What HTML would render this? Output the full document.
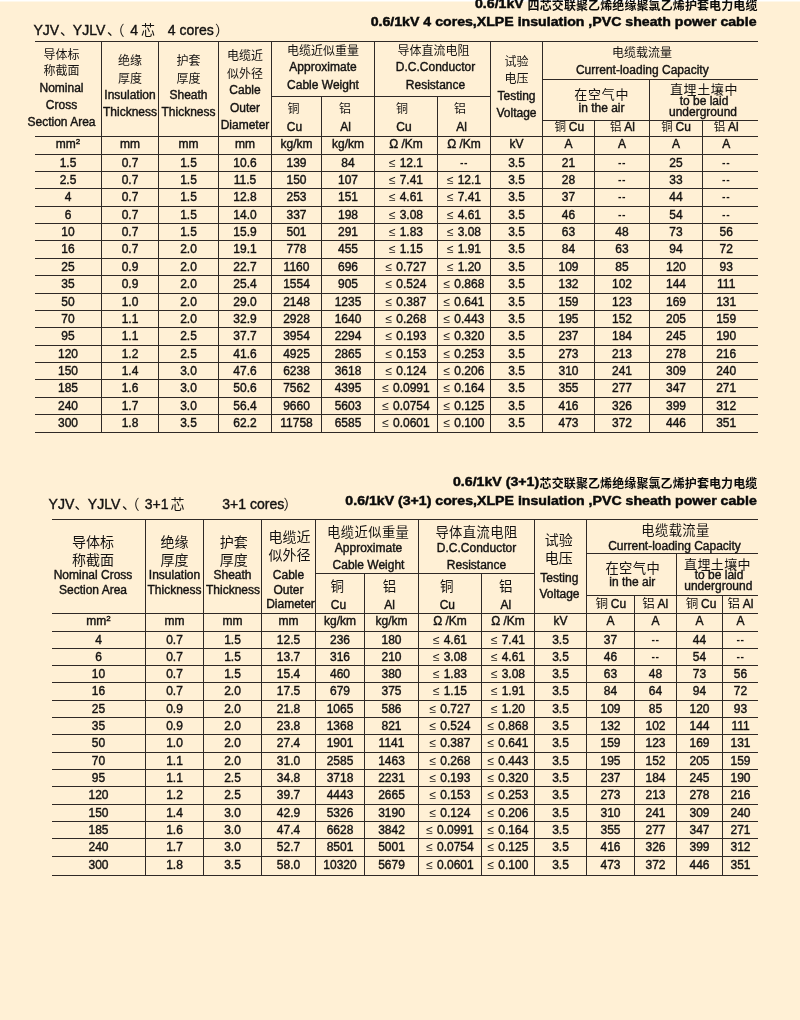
<!DOCTYPE html>
<html lang="zh">
<head>
<meta charset="utf-8">
<title>0.6/1kV XLPE insulation PVC sheath power cable</title>
<style>
html,body{margin:0;padding:0}
body{width:800px;height:1020px;overflow:hidden;position:relative;background:#FFF0D5;color:#141211;font-family:"Liberation Sans","Noto Sans CJK SC",sans-serif;font-size:12px;-webkit-text-stroke:.4px currentColor}
#page{position:absolute;left:0;top:0;width:800px;height:1020px;will-change:transform}
.strip{position:absolute;left:0;top:0;width:800px;height:2px;background:linear-gradient(#fff 0,#fff 1px,#fff8ea 1px,#fff8ea 2px)}
.cj{display:inline-block;white-space:nowrap;line-height:0;font-family:"Liberation Sans","Noto Sans CJK SC",sans-serif;-webkit-text-stroke:0}
.le{display:inline-block;margin-right:.8px;-webkit-text-stroke:0}
table{position:absolute;border-collapse:separate;border-spacing:0;table-layout:fixed;border-top:1px solid #2f2926}
th,td{padding:0;margin:0;font-weight:normal;text-align:center;vertical-align:top;border-right:1px solid #2f2926;border-bottom:1px solid #2f2926;white-space:nowrap;overflow:visible;font-size:12px;line-height:14px}
th.last,td.last{border-right:0}
#t1 .lc{padding-right:8.6px}
.hc{position:relative;width:100%}
.ln{position:absolute;left:-20px;right:-20px;height:14px;line-height:14px;text-align:center;white-space:nowrap}
.sp{margin-left:2.8px}
tr.u th{line-height:14px}
.dd{font-size:10.5px;font-weight:bold;-webkit-text-stroke:0;letter-spacing:.6px;position:relative;top:-1px}
sup{font-size:8px;line-height:0;vertical-align:4px}
td{line-height:16px}
h1,h2{margin:0;padding:0;position:absolute;left:0;width:800px;height:14px;white-space:nowrap;font-size:12.3px;line-height:14px;font-weight:bold;color:#0a0a0a;-webkit-text-stroke:.45px currentColor}
.wl{transform-origin:0 50%;transform:scaleX(1.15)}
.wr{left:auto;transform-origin:100% 50%;transform:scaleX(1.15)}
.lb{position:absolute;left:0;width:400px;height:16px;font-size:14px;line-height:16px;white-space:nowrap}
.sg{position:absolute;top:0}
</style>
</head>
<body>
<div id="page">
<div class="strip"></div>
<h1 class="tt" style="top:-2.66px"><span class="sg wl" style="left:475.3px">0.6/1kV</span><span class="sg" style="left:527.6px;top:1.30px"><span class="cj" style="font-size:12px;letter-spacing:0.1px">四芯交联聚乙烯绝缘聚氯乙烯护套电力电缆</span></span></h1>
<h2 class="tt" style="top:14.54px"><span class="sg wr" style="right:43px">0.6/1kV 4 cores,XLPE insulation ,PVC sheath power cable</span></h2>
<div class="lb" style="top:22.15px"><span class="sg" style="left:33.4px">YJV</span><span class="sg" style="left:60px"><span class="cj" style="font-size:14px;">、</span></span><span class="sg" style="left:72.8px">YJLV</span><span class="sg" style="left:107px"><span class="cj" style="font-size:14px;">、</span></span><span class="sg" style="left:110.5px"><span class="cj" style="font-size:14px;">（</span></span><span class="sg" style="left:130.3px">4</span><span class="sg" style="left:141px"><span class="cj" style="font-size:14px;">芯</span></span><span class="sg" style="left:167.8px">4 cores</span><span class="sg" style="left:215px"><span class="cj" style="font-size:14px;">）</span></span></div>
<table id="t1" style="left:35px;top:41px;width:723px">
<colgroup><col style="width:67px"><col style="width:57px"><col style="width:60px"><col style="width:53px"><col style="width:50px"><col style="width:53px"><col style="width:63px"><col style="width:53px"><col style="width:52px"><col style="width:52px"><col style="width:55px"><col style="width:53px"><col style="width:55px"></colgroup>
<thead>
<tr style="height:38px"><th rowspan="4"><div class="hc" style="height:94px;left:-6.5px"><div class="ln" style="top:5.64px"><span class="cj" style="font-size:12px;">导体标</span></div><div class="ln" style="top:22.24px"><span class="cj" style="font-size:12px;">称截面</span></div><div class="ln" style="top:38.64px">Nominal</div><div class="ln" style="top:55.94px">Cross</div><div class="ln" style="top:73.24px">Section Area</div></div></th><th rowspan="4"><div class="hc" style="height:94px"><div class="ln" style="top:12.14px"><span class="cj" style="font-size:12px;">绝缘</span></div><div class="ln" style="top:29.64px"><span class="cj" style="font-size:12px;">厚度</span></div><div class="ln" style="top:46.04px">Insulation</div><div class="ln" style="top:63.04px">Thickness</div></div></th><th rowspan="4"><div class="hc" style="height:94px"><div class="ln" style="top:12.14px"><span class="cj" style="font-size:12px;">护套</span></div><div class="ln" style="top:29.64px"><span class="cj" style="font-size:12px;">厚度</span></div><div class="ln" style="top:46.04px">Sheath</div><div class="ln" style="top:63.04px">Thickness</div></div></th><th rowspan="4"><div class="hc" style="height:94px"><div class="ln" style="top:7.24px"><span class="cj" style="font-size:12px;">电缆近</span></div><div class="ln" style="top:24.74px"><span class="cj" style="font-size:12px;">似外径</span></div><div class="ln" style="top:40.74px">Cable</div><div class="ln" style="top:59.04px">Outer</div><div class="ln" style="top:75.84px">Diameter</div></div></th><th rowspan="2" colspan="2"><div class="hc" style="height:54px"><div class="ln" style="top:2.44px"><span class="cj" style="font-size:12px;">电缆近似重量</span></div><div class="ln" style="top:18.44px">Approximate</div><div class="ln" style="top:35.74px">Cable Weight</div></div></th><th rowspan="2" colspan="2"><div class="hc" style="height:54px"><div class="ln" style="top:2.44px;left:-19px;right:-21px"><span class="cj" style="font-size:12px;">导体直流电阻</span></div><div class="ln" style="top:18.44px;left:-17px;right:-23px">D.C.Conductor</div><div class="ln" style="top:35.74px;left:-17px;right:-23px">Resistance</div></div></th><th rowspan="4"><div class="hc" style="height:94px"><div class="ln" style="top:13.04px"><span class="cj" style="font-size:12px;">试验</span></div><div class="ln" style="top:29.74px"><span class="cj" style="font-size:12px;">电压</span></div><div class="ln" style="top:46.94px">Testing</div><div class="ln" style="top:63.84px">Voltage</div></div></th><th colspan="4" class="last"><div class="hc" style="height:37px"><div class="ln" style="top:4.24px;left:-28.6px;right:-11.4px"><span class="cj" style="font-size:12px;">电缆载流量</span></div><div class="ln" style="top:21.04px;left:-28.2px;right:-11.8px">Current-loading Capacity</div></div></th></tr>
<tr style="height:17px"><th rowspan="2" colspan="2"><div class="hc" style="height:40px"><div class="ln" style="top:7.84px;left:-14.2px;right:-25.8px"><span class="cj" style="font-size:13px;letter-spacing:0.8px">在空气中</span></div><div class="ln" style="top:21.04px;left:-14.5px;right:-25.5px">in the air</div></div></th><th rowspan="2" colspan="2" class="last"><div class="hc" style="height:40px"><div class="ln" style="top:2.64px"><span class="cj" style="font-size:13px;letter-spacing:0.6px">直埋土壤中</span></div><div class="ln" style="top:14.44px">to be laid</div><div class="ln" style="top:24.84px;left:-21px;right:-19px">underground</div></div></th></tr>
<tr style="height:24px"><th rowspan="2"><div class="hc" style="height:39px"><div class="ln" style="top:4.74px;left:-23px;right:-17px"><span class="cj" style="font-size:12px;">铜</span></div><div class="ln" style="top:22.84px;left:-22px;right:-18px">Cu</div></div></th><th rowspan="2"><div class="hc" style="height:39px"><div class="ln" style="top:4.74px;left:-23px;right:-17px"><span class="cj" style="font-size:12px;">铝</span></div><div class="ln" style="top:22.84px;left:-22.5px;right:-17.5px">Al</div></div></th><th rowspan="2"><div class="hc" style="height:39px"><div class="ln" style="top:4.74px;left:-24px;right:-16px"><span class="cj" style="font-size:12px;">铜</span></div><div class="ln" style="top:22.84px;left:-22px;right:-18px">Cu</div></div></th><th rowspan="2"><div class="hc" style="height:39px"><div class="ln" style="top:4.74px;left:-23.9px;right:-16.1px"><span class="cj" style="font-size:12px;">铝</span></div><div class="ln" style="top:22.84px;left:-22.5px;right:-17.5px">Al</div></div></th></tr>
<tr style="height:16px"><th><div class="hc" style="height:15px"><div class="ln" style="top:-1.16px;left:-19.2px;right:-20.8px"><span class="cj" style="font-size:11.5px;">铜</span><span class="sp">Cu</span></div></div></th><th><div class="hc" style="height:15px"><div class="ln" style="top:-1.16px;left:-19.5px;right:-20.5px"><span class="cj" style="font-size:11.5px;">铝</span><span class="sp">Al</span></div></div></th><th><div class="hc" style="height:15px"><div class="ln" style="top:-1.16px"><span class="cj" style="font-size:11.5px;">铜</span><span class="sp">Cu</span></div></div></th><th class="last"><div class="hc" style="height:15px"><div class="ln" style="top:-1.16px;left:-24.3px;right:-15.7px"><span class="cj" style="font-size:11.5px;">铝</span><span class="sp">Al</span></div></div></th></tr>
<tr class="u" style="height:18px"><th>mm<sup>2</sup></th><th>mm</th><th>mm</th><th>mm</th><th>kg/km</th><th>kg/km</th><th>Ω /Km</th><th>Ω /Km</th><th>kV</th><th>A</th><th>A</th><th>A</th><th class='last lc'>A</th></tr>
</thead><tbody>
<tr style="height:17px"><td>1.5</td><td>0.7</td><td>1.5</td><td>10.6</td><td>139</td><td>84</td><td><span class="le">≤</span> 12.1</td><td><b class="dd">--</b></td><td>3.5</td><td>21</td><td><b class="dd">--</b></td><td>25</td><td class='last lc'><b class="dd">--</b></td></tr>
<tr style="height:17px"><td>2.5</td><td>0.7</td><td>1.5</td><td>11.5</td><td>150</td><td>107</td><td><span class="le">≤</span> 7.41</td><td><span class="le">≤</span> 12.1</td><td>3.5</td><td>28</td><td><b class="dd">--</b></td><td>33</td><td class='last lc'><b class="dd">--</b></td></tr>
<tr style="height:18px"><td>4</td><td>0.7</td><td>1.5</td><td>12.8</td><td>253</td><td>151</td><td><span class="le">≤</span> 4.61</td><td><span class="le">≤</span> 7.41</td><td>3.5</td><td>37</td><td><b class="dd">--</b></td><td>44</td><td class='last lc'><b class="dd">--</b></td></tr>
<tr style="height:17px"><td>6</td><td>0.7</td><td>1.5</td><td>14.0</td><td>337</td><td>198</td><td><span class="le">≤</span> 3.08</td><td><span class="le">≤</span> 4.61</td><td>3.5</td><td>46</td><td><b class="dd">--</b></td><td>54</td><td class='last lc'><b class="dd">--</b></td></tr>
<tr style="height:17px"><td>10</td><td>0.7</td><td>1.5</td><td>15.9</td><td>501</td><td>291</td><td><span class="le">≤</span> 1.83</td><td><span class="le">≤</span> 3.08</td><td>3.5</td><td>63</td><td>48</td><td>73</td><td class='last lc'>56</td></tr>
<tr style="height:18px"><td>16</td><td>0.7</td><td>2.0</td><td>19.1</td><td>778</td><td>455</td><td><span class="le">≤</span> 1.15</td><td><span class="le">≤</span> 1.91</td><td>3.5</td><td>84</td><td>63</td><td>94</td><td class='last lc'>72</td></tr>
<tr style="height:17px"><td>25</td><td>0.9</td><td>2.0</td><td>22.7</td><td>1160</td><td>696</td><td><span class="le">≤</span> 0.727</td><td><span class="le">≤</span> 1.20</td><td>3.5</td><td>109</td><td>85</td><td>120</td><td class='last lc'>93</td></tr>
<tr style="height:18px"><td>35</td><td>0.9</td><td>2.0</td><td>25.4</td><td>1554</td><td>905</td><td><span class="le">≤</span> 0.524</td><td><span class="le">≤</span> 0.868</td><td>3.5</td><td>132</td><td>102</td><td>144</td><td class='last lc'>111</td></tr>
<tr style="height:17px"><td>50</td><td>1.0</td><td>2.0</td><td>29.0</td><td>2148</td><td>1235</td><td><span class="le">≤</span> 0.387</td><td><span class="le">≤</span> 0.641</td><td>3.5</td><td>159</td><td>123</td><td>169</td><td class='last lc'>131</td></tr>
<tr style="height:17px"><td>70</td><td>1.1</td><td>2.0</td><td>32.9</td><td>2928</td><td>1640</td><td><span class="le">≤</span> 0.268</td><td><span class="le">≤</span> 0.443</td><td>3.5</td><td>195</td><td>152</td><td>205</td><td class='last lc'>159</td></tr>
<tr style="height:18px"><td>95</td><td>1.1</td><td>2.5</td><td>37.7</td><td>3954</td><td>2294</td><td><span class="le">≤</span> 0.193</td><td><span class="le">≤</span> 0.320</td><td>3.5</td><td>237</td><td>184</td><td>245</td><td class='last lc'>190</td></tr>
<tr style="height:17px"><td>120</td><td>1.2</td><td>2.5</td><td>41.6</td><td>4925</td><td>2865</td><td><span class="le">≤</span> 0.153</td><td><span class="le">≤</span> 0.253</td><td>3.5</td><td>273</td><td>213</td><td>278</td><td class='last lc'>216</td></tr>
<tr style="height:17px"><td>150</td><td>1.4</td><td>3.0</td><td>47.6</td><td>6238</td><td>3618</td><td><span class="le">≤</span> 0.124</td><td><span class="le">≤</span> 0.206</td><td>3.5</td><td>310</td><td>241</td><td>309</td><td class='last lc'>240</td></tr>
<tr style="height:18px"><td>185</td><td>1.6</td><td>3.0</td><td>50.6</td><td>7562</td><td>4395</td><td><span class="le">≤</span> 0.0991</td><td><span class="le">≤</span> 0.164</td><td>3.5</td><td>355</td><td>277</td><td>347</td><td class='last lc'>271</td></tr>
<tr style="height:17px"><td>240</td><td>1.7</td><td>3.0</td><td>56.4</td><td>9660</td><td>5603</td><td><span class="le">≤</span> 0.0754</td><td><span class="le">≤</span> 0.125</td><td>3.5</td><td>416</td><td>326</td><td>399</td><td class='last lc'>312</td></tr>
<tr style="height:18px"><td>300</td><td>1.8</td><td>3.5</td><td>62.2</td><td>11758</td><td>6585</td><td><span class="le">≤</span> 0.0601</td><td><span class="le">≤</span> 0.100</td><td>3.5</td><td>473</td><td>372</td><td>446</td><td class='last lc'>351</td></tr>
</tbody></table>
<h1 class="tt" style="top:474.94px"><span class="sg wl" style="left:452.6px">0.6/1kV (3+1)</span><span class="sg" style="left:539.6px;top:1.80px"><span class="cj" style="font-size:12px;letter-spacing:0.1px">芯交联聚乙烯绝缘聚氯乙烯护套电力电缆</span></span></h1>
<h2 class="tt" style="top:493.74px"><span class="sg wr" style="right:43px">0.6/1kV (3+1) cores,XLPE insulation ,PVC sheath power cable</span></h2>
<div class="lb" style="top:496.15px"><span class="sg" style="left:48.6px">YJV</span><span class="sg" style="left:74.5px"><span class="cj" style="font-size:14px;">、</span></span><span class="sg" style="left:87.8px">YJLV</span><span class="sg" style="left:122px"><span class="cj" style="font-size:14px;">、</span></span><span class="sg" style="left:125.5px"><span class="cj" style="font-size:14px;">（</span></span><span class="sg" style="left:144.8px">3+1</span><span class="sg" style="left:170.5px"><span class="cj" style="font-size:14px;">芯</span></span><span class="sg" style="left:222.3px">3+1 cores</span><span class="sg" style="left:283.5px"><span class="cj" style="font-size:14px;">）</span></span></div>
<table id="t2" style="left:52px;top:519px;width:706px">
<colgroup><col style="width:94px"><col style="width:58px"><col style="width:58px"><col style="width:54px"><col style="width:49px"><col style="width:54px"><col style="width:63px"><col style="width:53px"><col style="width:52px"><col style="width:48px"><col style="width:42px"><col style="width:46px"><col style="width:35px"></colgroup>
<thead>
<tr style="height:34px"><th rowspan="4"><div class="hc" style="height:93px;left:-5.5px"><div class="ln" style="top:15.64px"><span class="cj" style="font-size:14px;">导体标</span></div><div class="ln" style="top:33.64px"><span class="cj" style="font-size:14px;">称截面</span></div><div class="ln" style="top:48.04px">Nominal Cross</div><div class="ln" style="top:62.64px">Section Area</div></div></th><th rowspan="4"><div class="hc" style="height:93px"><div class="ln" style="top:15.64px"><span class="cj" style="font-size:14px;">绝缘</span></div><div class="ln" style="top:33.64px"><span class="cj" style="font-size:14px;">厚度</span></div><div class="ln" style="top:48.04px">Insulation</div><div class="ln" style="top:62.64px">Thickness</div></div></th><th rowspan="4"><div class="hc" style="height:93px"><div class="ln" style="top:15.64px;left:-18.7px;right:-21.3px"><span class="cj" style="font-size:14px;">护套</span></div><div class="ln" style="top:33.64px;left:-18.7px;right:-21.3px"><span class="cj" style="font-size:14px;">厚度</span></div><div class="ln" style="top:48.04px">Sheath</div><div class="ln" style="top:62.64px;left:-19.5px;right:-20.5px">Thickness</div></div></th><th rowspan="4"><div class="hc" style="height:93px"><div class="ln" style="top:11.14px;left:-19px;right:-21px"><span class="cj" style="font-size:14px;">电缆近</span></div><div class="ln" style="top:29.24px;left:-19px;right:-21px"><span class="cj" style="font-size:14px;">似外径</span></div><div class="ln" style="top:47.64px">Cable</div><div class="ln" style="top:62.54px">Outer</div><div class="ln" style="top:77.24px;left:-18px;right:-22px">Diameter</div></div></th><th rowspan="2" colspan="2"><div class="hc" style="height:53px"><div class="ln" style="top:6.34px;left:-18.8px;right:-21.2px"><span class="cj" style="font-size:13.3px;letter-spacing:0.4px">电缆近似重量</span></div><div class="ln" style="top:21.04px;left:-18.5px;right:-21.5px">Approximate</div><div class="ln" style="top:38.04px;left:-18.5px;right:-21.5px">Cable Weight</div></div></th><th rowspan="2" colspan="2"><div class="hc" style="height:53px"><div class="ln" style="top:6.34px"><span class="cj" style="font-size:13.3px;letter-spacing:0.4px">导体直流电阻</span></div><div class="ln" style="top:21.04px">D.C.Conductor</div><div class="ln" style="top:38.04px">Resistance</div></div></th><th rowspan="4"><div class="hc" style="height:93px"><div class="ln" style="top:14.44px;left:-21.8px;right:-18.2px"><span class="cj" style="font-size:14px;">试验</span></div><div class="ln" style="top:31.64px;left:-21.8px;right:-18.2px"><span class="cj" style="font-size:14px;">电压</span></div><div class="ln" style="top:51.24px;left:-21.2px;right:-18.8px">Testing</div><div class="ln" style="top:67.44px;left:-21px;right:-19px">Voltage</div></div></th><th colspan="4" class="last"><div class="hc" style="height:33px"><div class="ln" style="top:3.64px;left:-17px;right:-23px"><span class="cj" style="font-size:13.3px;letter-spacing:0.4px">电缆载流量</span></div><div class="ln" style="top:19.24px;left:-18px;right:-22px">Current-loading Capacity</div></div></th></tr>
<tr style="height:20px"><th rowspan="2" colspan="2"><div class="hc" style="height:41px"><div class="ln" style="top:8.14px;left:-18.7px;right:-21.3px"><span class="cj" style="font-size:13.3px;letter-spacing:0.4px">在空气中</span></div><div class="ln" style="top:21.24px;left:-19.2px;right:-20.8px">in the air</div></div></th><th rowspan="2" colspan="2" class="last"><div class="hc" style="height:41px"><div class="ln" style="top:3.64px"><span class="cj" style="font-size:13px;letter-spacing:0.4px">直埋土壤中</span></div><div class="ln" style="top:14.04px;left:-18.4px;right:-21.6px">to be laid</div><div class="ln" style="top:24.84px;left:-19.2px;right:-20.8px">underground</div></div></th></tr>
<tr style="height:22px"><th rowspan="2"><div class="hc" style="height:39px"><div class="ln" style="top:6.24px;left:-22.7px;right:-17.3px"><span class="cj" style="font-size:13.5px;">铜</span></div><div class="ln" style="top:23.64px;left:-21.6px;right:-18.4px">Cu</div></div></th><th rowspan="2"><div class="hc" style="height:39px"><div class="ln" style="top:6.24px;left:-22px;right:-18px"><span class="cj" style="font-size:13.5px;">铝</span></div><div class="ln" style="top:23.64px;left:-22px;right:-18px">Al</div></div></th><th rowspan="2"><div class="hc" style="height:39px"><div class="ln" style="top:6.24px;left:-23.3px;right:-16.7px"><span class="cj" style="font-size:13.5px;">铜</span></div><div class="ln" style="top:23.64px;left:-22.7px;right:-17.3px">Cu</div></div></th><th rowspan="2"><div class="hc" style="height:39px"><div class="ln" style="top:6.24px;left:-22.3px;right:-17.7px"><span class="cj" style="font-size:13.5px;">铝</span></div><div class="ln" style="top:23.64px;left:-22.2px;right:-17.8px">Al</div></div></th></tr>
<tr style="height:18px"><th><div class="hc" style="height:17px"><div class="ln" style="top:1.44px;left:-19.7px;right:-20.3px"><span class="cj" style="font-size:12.5px;">铜</span><span class="sp">Cu</span></div></div></th><th><div class="hc" style="height:17px"><div class="ln" style="top:1.44px;left:-20.3px;right:-19.7px"><span class="cj" style="font-size:12.5px;">铝</span><span class="sp">Al</span></div></div></th><th><div class="hc" style="height:17px"><div class="ln" style="top:1.44px;left:-18.5px;right:-21.5px"><span class="cj" style="font-size:12.5px;">铜</span><span class="sp">Cu</span></div></div></th><th class="last"><div class="hc" style="height:17px"><div class="ln" style="top:1.44px"><span class="cj" style="font-size:12.5px;">铝</span><span class="sp">Al</span></div></div></th></tr>
<tr class="u" style="height:18px"><th>mm<sup>2</sup></th><th>mm</th><th>mm</th><th>mm</th><th>kg/km</th><th>kg/km</th><th>Ω /Km</th><th>Ω /Km</th><th>kV</th><th>A</th><th>A</th><th>A</th><th class='last lc'>A</th></tr>
</thead><tbody>
<tr style="height:17px"><td>4</td><td>0.7</td><td>1.5</td><td>12.5</td><td>236</td><td>180</td><td><span class="le">≤</span> 4.61</td><td><span class="le">≤</span> 7.41</td><td>3.5</td><td>37</td><td><b class="dd">--</b></td><td>44</td><td class='last lc'><b class="dd">--</b></td></tr>
<tr style="height:17px"><td>6</td><td>0.7</td><td>1.5</td><td>13.7</td><td>316</td><td>210</td><td><span class="le">≤</span> 3.08</td><td><span class="le">≤</span> 4.61</td><td>3.5</td><td>46</td><td><b class="dd">--</b></td><td>54</td><td class='last lc'><b class="dd">--</b></td></tr>
<tr style="height:17px"><td>10</td><td>0.7</td><td>1.5</td><td>15.4</td><td>460</td><td>380</td><td><span class="le">≤</span> 1.83</td><td><span class="le">≤</span> 3.08</td><td>3.5</td><td>63</td><td>48</td><td>73</td><td class='last lc'>56</td></tr>
<tr style="height:18px"><td>16</td><td>0.7</td><td>2.0</td><td>17.5</td><td>679</td><td>375</td><td><span class="le">≤</span> 1.15</td><td><span class="le">≤</span> 1.91</td><td>3.5</td><td>84</td><td>64</td><td>94</td><td class='last lc'>72</td></tr>
<tr style="height:17px"><td>25</td><td>0.9</td><td>2.0</td><td>21.8</td><td>1065</td><td>586</td><td><span class="le">≤</span> 0.727</td><td><span class="le">≤</span> 1.20</td><td>3.5</td><td>109</td><td>85</td><td>120</td><td class='last lc'>93</td></tr>
<tr style="height:17px"><td>35</td><td>0.9</td><td>2.0</td><td>23.8</td><td>1368</td><td>821</td><td><span class="le">≤</span> 0.524</td><td><span class="le">≤</span> 0.868</td><td>3.5</td><td>132</td><td>102</td><td>144</td><td class='last lc'>111</td></tr>
<tr style="height:18px"><td>50</td><td>1.0</td><td>2.0</td><td>27.4</td><td>1901</td><td>1141</td><td><span class="le">≤</span> 0.387</td><td><span class="le">≤</span> 0.641</td><td>3.5</td><td>159</td><td>123</td><td>169</td><td class='last lc'>131</td></tr>
<tr style="height:17px"><td>70</td><td>1.1</td><td>2.0</td><td>31.0</td><td>2585</td><td>1463</td><td><span class="le">≤</span> 0.268</td><td><span class="le">≤</span> 0.443</td><td>3.5</td><td>195</td><td>152</td><td>205</td><td class='last lc'>159</td></tr>
<tr style="height:17px"><td>95</td><td>1.1</td><td>2.5</td><td>34.8</td><td>3718</td><td>2231</td><td><span class="le">≤</span> 0.193</td><td><span class="le">≤</span> 0.320</td><td>3.5</td><td>237</td><td>184</td><td>245</td><td class='last lc'>190</td></tr>
<tr style="height:18px"><td>120</td><td>1.2</td><td>2.5</td><td>39.7</td><td>4443</td><td>2665</td><td><span class="le">≤</span> 0.153</td><td><span class="le">≤</span> 0.253</td><td>3.5</td><td>273</td><td>213</td><td>278</td><td class='last lc'>216</td></tr>
<tr style="height:17px"><td>150</td><td>1.4</td><td>3.0</td><td>42.9</td><td>5326</td><td>3190</td><td><span class="le">≤</span> 0.124</td><td><span class="le">≤</span> 0.206</td><td>3.5</td><td>310</td><td>241</td><td>309</td><td class='last lc'>240</td></tr>
<tr style="height:17px"><td>185</td><td>1.6</td><td>3.0</td><td>47.4</td><td>6628</td><td>3842</td><td><span class="le">≤</span> 0.0991</td><td><span class="le">≤</span> 0.164</td><td>3.5</td><td>355</td><td>277</td><td>347</td><td class='last lc'>271</td></tr>
<tr style="height:18px"><td>240</td><td>1.7</td><td>3.0</td><td>52.7</td><td>8501</td><td>5001</td><td><span class="le">≤</span> 0.0754</td><td><span class="le">≤</span> 0.125</td><td>3.5</td><td>416</td><td>326</td><td>399</td><td class='last lc'>312</td></tr>
<tr style="height:19px"><td>300</td><td>1.8</td><td>3.5</td><td>58.0</td><td>10320</td><td>5679</td><td><span class="le">≤</span> 0.0601</td><td><span class="le">≤</span> 0.100</td><td>3.5</td><td>473</td><td>372</td><td>446</td><td class='last lc'>351</td></tr>
</tbody></table>
</div>
</body>
</html>
